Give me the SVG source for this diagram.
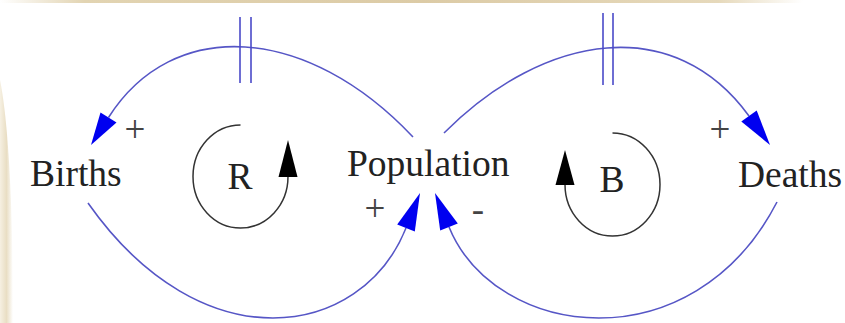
<svg xmlns="http://www.w3.org/2000/svg" width="845" height="323" viewBox="0 0 845 323">
<defs>
<linearGradient id="lband" x1="0" y1="0" x2="1" y2="0">
<stop offset="0" stop-color="#f6f0e2"/>
<stop offset="0.5" stop-color="#e9dec4"/>
<stop offset="1" stop-color="#ffffff"/>
</linearGradient>
<linearGradient id="tband" x1="0" y1="0" x2="1" y2="0">
<stop offset="0" stop-color="#ffffff"/>
<stop offset="0.1" stop-color="#e2d4b2"/>
<stop offset="0.5" stop-color="#dccba6"/>
<stop offset="0.85" stop-color="#e6d9bb"/>
<stop offset="0.95" stop-color="#ffffff"/>
</linearGradient>
</defs>
<style>
.lbl{font-family:"Liberation Serif","Times New Roman",serif;font-size:37.5px;fill:#222}
.sign{font-family:"Liberation Serif","Times New Roman",serif;font-size:37px;fill:#444;text-anchor:middle}
.link{fill:none;stroke:#5656c6;stroke-width:1.6}
.delay{stroke:#4a4ac8;stroke-width:1.6}
.ah{fill:#0000f0}
.loop{fill:none;stroke:#333;stroke-width:1.5}
.lah{fill:#000}
</style>
<rect width="845" height="323" fill="#ffffff"/>
<rect x="0" y="0" width="845" height="3" fill="url(#tband)"/>
<path d="M0,80 C8,120 13,200 13,323 L0,323 Z" fill="url(#lband)"/>

<g id="connectors">
<path class="link" d="M413,137 C306.8,24.3 172.9,16 108.5,117.5"/>
<polygon class="ah" points="91,145 100.5,112.4 116.5,122.6"/>
<line class="delay" x1="240" y1="17" x2="240" y2="83"/>
<line class="delay" x1="251" y1="17" x2="251" y2="83"/>

<path class="link" d="M444,133 C546,31 675.1,13.9 749,116"/>
<polygon class="ah" points="770,145 756.7,110.4 741.3,121.6"/>
<line class="delay" x1="603" y1="13" x2="603" y2="85"/>
<line class="delay" x1="613" y1="13" x2="613" y2="85"/>

<path class="link" d="M88,203 C201.7,364.7 361.4,339.6 406,228"/>
<polygon class="ah" points="420,193 414.8,231.5 397.2,224.5"/>

<path class="link" d="M777,202 C692.8,365 495.5,340 449,227"/>
<polygon class="ah" points="435,193 457.8,223.4 440.2,230.6"/>
</g>

<g id="births"><text class="lbl" x="30" y="186">Births</text></g>
<g id="population"><text class="lbl" x="347" y="176">Population</text></g>
<g id="deaths"><text class="lbl" x="738" y="187">Deaths</text></g>

<g id="signs">
<text class="sign" x="135" y="141.5">+</text>
<text class="sign" x="720" y="141.5">+</text>
<text class="sign" x="375" y="221">+</text>
<text class="sign" x="478" y="222">-</text>
</g>

<g id="loopR">
<path class="loop" d="M240.5,125 A47.5,51.5 0 1 0 288,176.5"/>
<polygon class="lah" points="288,140 278.5,177 297.5,177"/>
<text class="lbl" x="240" y="189" text-anchor="middle">R</text>
</g>

<g id="loopB">
<path class="loop" d="M612.5,133 A47.5,51.5 0 1 1 565,184.5"/>
<polygon class="lah" points="565,150 555.5,185 574.5,185"/>
<text class="lbl" x="612" y="192" text-anchor="middle">B</text>
</g>
</svg>
